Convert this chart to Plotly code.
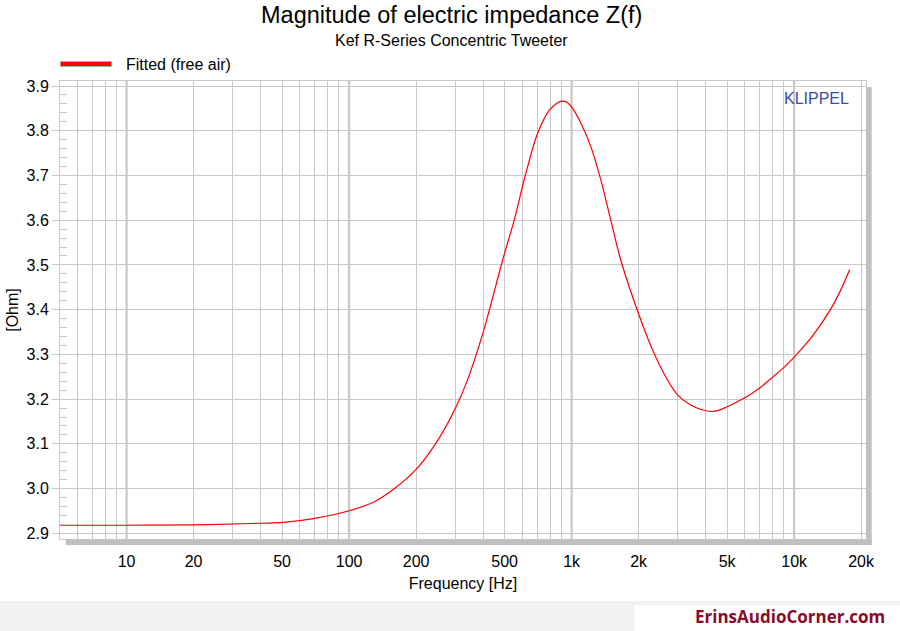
import plotly.graph_objects as go

# ---- data ----
freq_hz = [5, 10, 20, 36.5, 50.6, 70.2, 100, 130, 160, 202,
           251, 300, 340, 399, 490, 552, 612, 703, 794, 850, 904, 950, 1010,
           1120, 1221, 1353, 1500, 1663, 2046, 2350, 2649, 3000, 3430, 4000,
           4400, 5000, 6000, 7000, 8000, 9000, 10000, 12250, 14550, 16130, 17770]
impedance_ohm = [2.918, 2.918, 2.919, 2.922, 2.9246, 2.9335, 2.9505,
                 2.9707, 3.0, 3.045, 3.109, 3.179, 3.242, 3.347,
                 3.511, 3.600, 3.690, 3.794, 3.846, 3.860, 3.866, 3.864, 3.850,
                 3.809, 3.764, 3.690, 3.600, 3.511, 3.377, 3.302, 3.250, 3.209,
                 3.187, 3.174, 3.173, 3.183, 3.203, 3.225, 3.249, 3.271, 3.294,
                 3.345, 3.400, 3.442, 3.490]

x_tick_vals = [10, 20, 50, 100, 200, 500, 1000, 2000, 5000, 10000, 20000]
x_tick_text = ["10", "20", "50", "100", "200", "500", "1k", "2k", "5k", "10k", "20k"]
decades = [10, 100, 1000, 10000]

x_range_log = [0.7008, 4.323]
y_range = [2.8873, 3.9112]

GRID = "#c8c8c8"
FONT = "Liberation Sans, Arial, sans-serif"

fig = go.Figure()

# thicker decade grid lines
dx, dy = [], []
for d in decades:
    dx += [d, d, None]
    dy += [y_range[0], y_range[1], None]
fig.add_trace(go.Scatter(x=dx, y=dy, mode="lines", line=dict(color=GRID, width=2.2),
                         hoverinfo="skip", showlegend=False))

fig.add_trace(go.Scatter(x=freq_hz, y=impedance_ohm, mode="lines",
                         name="Fitted (free air)",
                         line=dict(color="#ff0000", width=1.2, shape="spline", smoothing=1.0),
                         showlegend=False))

fig.update_layout(
    width=900, height=631,
    margin=dict(l=58, r=34, t=81, b=92),
    paper_bgcolor="white", plot_bgcolor="white",
    font=dict(family=FONT, size=16, color="black"),
    xaxis=dict(
        type="log", range=x_range_log,
        tickmode="array", tickvals=x_tick_vals, ticktext=x_tick_text,
        showgrid=True, gridcolor=GRID, gridwidth=1,
        ticks="", ticklabelstandoff=8,
        showline=True, linecolor=GRID, linewidth=1, mirror=True,
        minor=dict(dtick="D1", showgrid=True, gridcolor=GRID, gridwidth=1, ticks=""),
        title=dict(text="Frequency [Hz]", font=dict(size=16), standoff=8),
        zeroline=False,
        tickfont=dict(size=16),
    ),
    yaxis=dict(
        range=y_range, dtick=0.1, tick0=2.9, tickformat=".1f",
        showgrid=True, gridcolor=GRID, gridwidth=1,
        ticks="outside", ticklen=7, tickcolor=GRID,
        showline=True, linecolor=GRID, linewidth=1, mirror=True,
        minor=dict(dtick=0.02, tick0=2.9, ticks="inside", ticklen=7, tickcolor=GRID, showgrid=False),
        title=dict(text="[Ohm]", font=dict(size=16), standoff=3),
        zeroline=False,
        tickfont=dict(size=16),
    ),
    showlegend=False,
)

shapes = [
    # plot shadow (right & bottom)
    dict(type="rect", xref="paper", yref="paper", x0=1.0, x1=1.0071, y0=-0.0131, y1=0.987,
         fillcolor="#c0c0c0", line=dict(width=0), layer="above"),
    dict(type="rect", xref="paper", yref="paper", x0=0.00706, x1=1.0071, y0=-0.0131, y1=-0.0005,
         fillcolor="#c0c0c0", line=dict(width=0), layer="above"),
    # footer band
    dict(type="rect", xref="paper", yref="paper", x0=-0.08, x1=1.05, y0=-0.21, y1=-0.1354,
         fillcolor="#f2f2f2", line=dict(width=0)),
    dict(type="rect", xref="paper", yref="paper", x0=0.7127, x1=1.05, y0=-0.21, y1=-0.1441,
         fillcolor="white", line=dict(width=0)),
    # legend sample
    dict(type="line", xref="paper", yref="paper", x0=0.0, x1=0.0643, y0=1.037, y1=1.037,
         line=dict(color="#b0b0b0", width=6)),
    dict(type="line", xref="paper", yref="paper", x0=0.001, x1=0.0633, y0=1.037, y1=1.037,
         line=dict(color="#ff0000", width=4)),
]
fig.update_layout(shapes=shapes)

annotations = [
    dict(text="Magnitude of electric impedance Z(f)", xref="paper", yref="paper",
         x=(450 - 58) / 808, y=1.144, showarrow=False, xanchor="center", yanchor="middle",
         font=dict(size=23.5, family=FONT, color="black")),
    dict(text="Kef R-Series Concentric Tweeter", xref="paper", yref="paper",
         x=(450 - 58) / 808, y=1.0895, showarrow=False, xanchor="center", yanchor="middle",
         font=dict(size=16, family=FONT, color="black")),
    dict(text="Fitted (free air)", xref="paper", yref="paper",
         x=0.079, y=1.037, showarrow=False, xanchor="left", yanchor="middle",
         font=dict(size=16, family=FONT, color="black")),
    dict(text="KLIPPEL", xref="paper", yref="paper",
         x=0.938, y=0.9607, showarrow=False, xanchor="center", yanchor="middle",
         font=dict(size=16, family=FONT, color="#3a4da0")),
    dict(text="<b>ErinsAudioCorner.com</b>", xref="paper", yref="paper",
         x=(887 - 58.3) / 807.7, y=-0.170, showarrow=False, xanchor="right", yanchor="middle",
         font=dict(size=17, family="Open Sans, sans-serif", color="#8b0a2a")),
]
fig.update_layout(annotations=annotations)

fig.write_html("out.html", config={"displayModeBar": False},
               post_script="document.body.style.margin='0';document.body.style.padding='0';")
